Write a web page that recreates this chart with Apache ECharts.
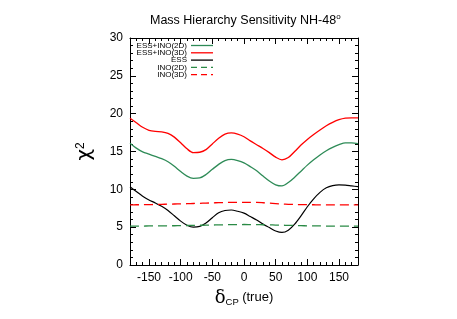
<!DOCTYPE html>
<html>
<head>
<meta charset="utf-8">
<script src="https://cdn.jsdelivr.net/npm/echarts@6/dist/echarts.min.js"></script>
<style>html,body{margin:0;padding:0;background:#fff}#c{width:457px;height:319px}</style>
</head>
<body>
<div id="c"></div>
<script>
var deltaCP = [-180,-170,-160,-150,-140,-130,-120,-110,-100,-90,-80,-70,-60,-50,-40,-30,-20,-10,0,10,20,30,40,50,60,70,80,90,100,110,120,130,140,150,160,170,180];
var essIno2D = [16.1,15.45,14.95,14.65,14.35,14.05,13.65,13.05,12.35,11.75,11.45,11.5,11.95,12.65,13.3,13.8,13.95,13.8,13.5,13.0,12.45,11.75,11.1,10.6,10.45,10.9,11.6,12.4,13.2,13.9,14.55,15.1,15.55,15.9,16.15,16.15,16.05];
var essIno3D = [19.4,18.8,18.2,17.8,17.65,17.6,17.4,16.9,16.15,15.35,14.85,14.9,15.25,16.0,16.75,17.3,17.45,17.3,16.95,16.4,15.9,15.4,14.85,14.25,13.9,14.2,15.0,15.85,16.6,17.25,17.85,18.4,18.85,19.2,19.4,19.45,19.45];
var ess = [10.35,9.7,9.1,8.6,8.2,7.75,7.2,6.5,5.8,5.25,5.0,5.1,5.55,6.25,6.9,7.2,7.27,7.1,6.85,6.4,5.95,5.4,4.95,4.5,4.3,4.6,5.4,6.5,7.7,8.75,9.6,10.2,10.5,10.6,10.55,10.45,10.35];
var ino2D = [5.15,5.15,5.15,5.16,5.17,5.17,5.18,5.19,5.2,5.22,5.23,5.25,5.26,5.28,5.3,5.32,5.33,5.34,5.35,5.34,5.33,5.32,5.3,5.28,5.26,5.24,5.22,5.2,5.18,5.17,5.16,5.15,5.15,5.15,5.15,5.15,5.15];
var ino3D = [7.95,7.96,7.97,7.98,8.0,8.02,8.04,8.06,8.08,8.1,8.13,8.15,8.18,8.21,8.24,8.26,8.27,8.28,8.28,8.28,8.27,8.23,8.18,8.12,8.06,8.02,8.0,7.98,7.97,7.96,7.95,7.95,7.95,7.95,7.95,7.95,7.95];
var xMajorTicks = [-150,-100,-50,0,50,100,150];
var legendNames = ['ESS+INO(2D)','ESS+INO(3D)','ESS','INO(2D)','INO(3D)'];

function pairs(ys){ return deltaCP.map(function(x,i){ return [x, ys[i]]; }); }

var FONT = '"Liberation Sans", Arial, sans-serif';
var colors = ['#2e8b57','#ff0000','#000000','#2a8a45','#ff0000'];
var dashes = ['solid','solid','solid',[9,5],[9,5]];
var seriesVals = [essIno2D, essIno3D, ess, ino2D, ino3D];

var series = seriesVals.map(function(v,i){
  return {
    name: legendNames[i], type:'line', data: pairs(v), smooth: 0.3, symbol:'none',
    xAxisIndex:0, yAxisIndex:0,
    lineStyle:{color:colors[i], width: i===2?1.2:1.3, type:dashes[i]},
    emphasis:{disabled:true}
  };
});

function xAx(pos, major, labels){
  var a = {
    type:'value', min:-180, max:180, position:pos,
    axisLine:{show:true, onZero:false, lineStyle:{color:'#000', width:1}},
    axisTick:{show:true, inside:true, length: major?6:3, lineStyle:{color:'#000'}},
    axisLabel:{show:labels, color:'#000', fontSize:12, fontFamily:FONT, margin:7},
    splitLine:{show:false}
  };
  if (major){ a.axisTick.customValues = xMajorTicks; a.axisLabel.customValues = xMajorTicks; }
  else { a.interval = 10; a.axisLine.show = false; }
  return a;
}
var xAxes = [xAx('bottom',true,true), xAx('top',true,false), xAx('bottom',false,false), xAx('top',false,false)];
xAxes[0].name = '{d|δ}{s|CP} {t|(true)}';
xAxes[0].nameLocation = 'middle';
xAxes[0].nameGap = 23;
xAxes[0].nameTextStyle = {color:'#000', fontFamily:FONT, rich:{
  d:{fontSize:18, fontFamily:'"DejaVu Serif", "Liberation Serif", serif', color:'#000'},
  s:{fontSize:9.5, fontFamily:FONT, color:'#000', verticalAlign:'bottom', padding:[8,0,0,0]},
  t:{fontSize:13, fontFamily:FONT, color:'#000'}
}};

function yAx(pos, labels){
  return {
    type:'value', min:0, max:30, interval:5, position:pos,
    axisLine:{show:true, onZero:false, lineStyle:{color:'#000', width:1}},
    axisTick:{show:true, inside:true, length:6, lineStyle:{color:'#000'}},
    minorTick:{show:true, splitNumber:5, length:3, lineStyle:{color:'#000'}},
    axisLabel:{show:labels, color:'#000', fontSize:12, fontFamily:FONT, margin:7},
    splitLine:{show:false}
  };
}
var yAxes = [yAx('left',true), yAx('right',false)];
yAxes[0].name = '{c|χ}{p|2}';
yAxes[0].nameLocation = 'middle';
yAxes[0].nameRotate = 90;
yAxes[0].nameGap = 35;
yAxes[0].nameTextStyle = {color:'#000', rich:{
  c:{fontSize:20, fontFamily:'"DejaVu Sans", sans-serif', color:'#000'},
  p:{fontSize:12, fontFamily:FONT, color:'#000', verticalAlign:'top', padding:[0,0,8,0]}
}};

// legend graphic
var gfx = [];
var ly0 = 45.5, ldy = 7.3;
legendNames.forEach(function(n,i){
  var y = ly0 + i*ldy;
  gfx.push({type:'text', x:187, y:y, style:{text:n, x:0, y:0, align:'right', verticalAlign:'middle', fontSize:8, fontFamily:FONT, fill:'#000'}});
  gfx.push({type:'line', shape:{x1:191, y1:y, x2:213, y2:y}, style:{stroke:colors[i], lineWidth:1.3, lineDash: dashes[i]==='solid'?null:[6,4]}});
});

var chart = echarts.init(document.getElementById('c'), null, {renderer:'canvas'});
chart.setOption({
  animation:false,
  backgroundColor:'#fff',
  title:{text:'Mass Hierarchy Sensitivity NH-48{o|o}', left:145, top:8, textStyle:{fontSize:12.5, fontWeight:'normal', fontFamily:FONT, color:'#000', rich:{o:{fontSize:8, fontFamily:FONT, color:'#000', verticalAlign:'top', padding:[0,0,7,0]}}}},
  grid:{left:130, right:99, top:38, bottom:54, containLabel:false},
  xAxis: xAxes,
  yAxis: yAxes,
  series: series,
  graphic: gfx
});
</script>
</body>
</html>
